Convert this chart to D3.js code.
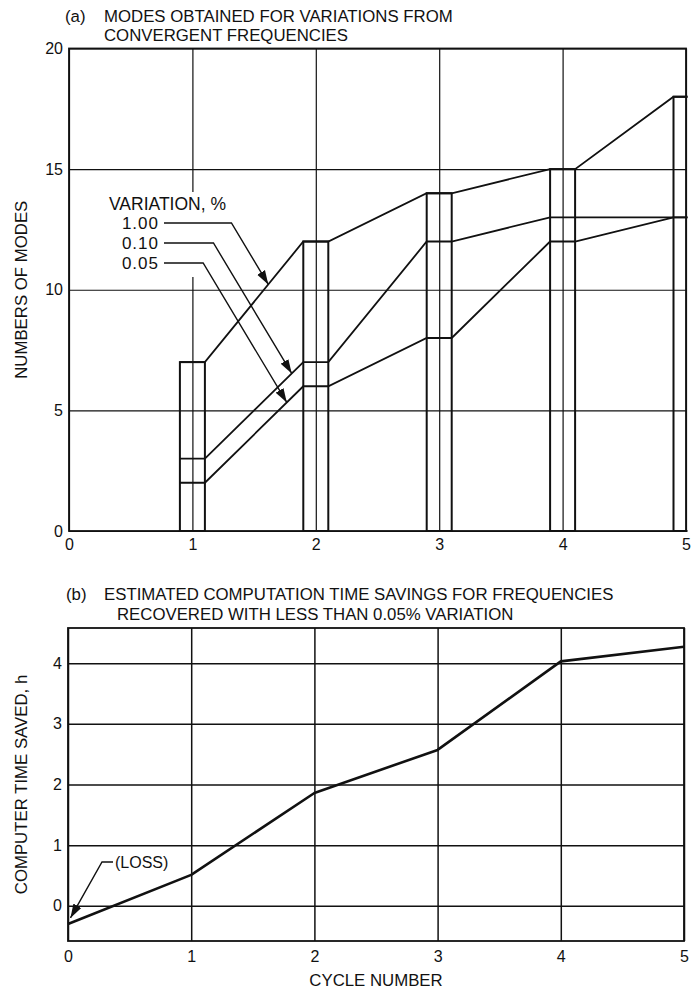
<!DOCTYPE html>
<html>
<head>
<meta charset="utf-8">
<script src="https://cdn.jsdelivr.net/npm/d3@7"></script>
<style>
  body { margin: 0; background: #fff; }
  text { font-family: "Liberation Sans", Arial, sans-serif; fill: #111; }
</style>
</head>
<body>
<div id="figure"></div>
<script>
// Donnees du graphique (a)
const cycles_a = [1, 2, 3, 4, 5];
const variations = ["1.00", "0.10", "0.05"];
const modes_100 = [7, 12, 14, 15, 18];
const modes_010 = [3, 7, 12, 13, 13];
const modes_005 = [2, 6, 8, 12, 13];
const ticks_a_x = [0, 1, 2, 3, 4, 5];
const ticks_a_y = [0, 5, 10, 15, 20];
// position (en cycle) de la pointe de chaque fleche de legende
const fleches_a = [1.615, 1.805, 1.765];

// Donnees du graphique (b)
const cycles_b = [0, 1, 2, 3, 4, 5];
const heures = [-0.3, 0.51, 1.86, 2.57, 4.03, 4.27];
const ticks_b_x = [0, 1, 2, 3, 4, 5];
const ticks_b_y = [0, 1, 2, 3, 4];
const perte_pointe = [0.02, -0.2];

const W = 698, H = 992;
const FT = 16.8;
const svg = d3.select("#figure").append("svg")
    .attr("width", W).attr("height", H);

// fleches
svg.append("defs").append("marker")
    .attr("id", "fleche")
    .attr("markerUnits", "userSpaceOnUse")
    .attr("viewBox", "0 -5 14 10")
    .attr("refX", 14).attr("refY", 0)
    .attr("markerWidth", 14).attr("markerHeight", 10)
    .attr("orient", "auto")
    .append("path").attr("d", "M0,-4.5L14,0L0,4.5Z").attr("fill", "#111");

svg.select("defs").append("clipPath").attr("id", "clip_a")
    .append("rect").attr("x", 68).attr("y", 40).attr("width", 619.5).attr("height", 500);

// ---------- (a) ----------
const xa = d3.scaleLinear().domain([0, 5]).range([69, 686]);
const ya = d3.scaleLinear().domain([0, 20]).range([531, 48.5]);

function titre(x1, x2, y1, y2, lettre, l1, l2) {
    svg.append("text").attr("x", x1).attr("y", y1).attr("font-size", FT).text(lettre);
    svg.append("text").attr("x", x2).attr("y", y1).attr("font-size", FT).text(l1);
    svg.append("text").attr("x", x2 + (l2.x || 0)).attr("y", y2).attr("font-size", FT).text(l2.t);
}
titre(65, 104, 22, 41, "(a)", "MODES OBTAINED FOR VARIATIONS FROM", {t: "CONVERGENT FREQUENCIES"});

function styleAxe(g, ep) {
    g.select(".domain").remove();
    g.selectAll("line").attr("stroke", "#111").attr("stroke-width", ep);
    g.selectAll("text").attr("font-size", 16).attr("fill", "#111")
        .style("font-family", "Liberation Sans, Arial, sans-serif");
}

const ga = svg.append("g");
ga.append("g")
    .attr("transform", `translate(${xa(0)},0)`)
    .call(d3.axisLeft(ya).tickValues(ticks_a_y).tickFormat(d3.format("d"))
        .tickSize(-(xa(5) - xa(0))).tickPadding(6))
    .call(g => styleAxe(g, 1.2));
ga.append("g")
    .attr("transform", `translate(0,${ya(0)})`)
    .call(d3.axisBottom(xa).tickValues(ticks_a_x).tickFormat(d3.format("d"))
        .tickSize(-(ya(0) - ya(20))).tickPadding(8))
    .call(g => styleAxe(g, 1.2));
ga.append("rect")
    .attr("x", xa(0)).attr("y", ya(20))
    .attr("width", xa(5) - xa(0)).attr("height", ya(0) - ya(20))
    .attr("fill", "none").attr("stroke", "#111").attr("stroke-width", 1.8);

// masque blanc derriere la legende
ga.append("rect").attr("x", 100).attr("y", 192).attr("width", 140).attr("height", 85).attr("fill", "#fff");

// barres
const hw = 12.5;
const series = [modes_100, modes_010, modes_005];
const barres = ga.append("g").attr("clip-path", "url(#clip_a)");
barres.selectAll("rect.barre")
    .data(cycles_a)
    .join("rect")
    .attr("class", "barre")
    .attr("x", d => xa(d) - hw)
    .attr("y", (d, i) => ya(d3.max(series, s => s[i])))
    .attr("width", 2 * hw)
    .attr("height", (d, i) => ya(0) - ya(d3.max(series, s => s[i])))
    .attr("fill", "none").attr("stroke", "#111").attr("stroke-width", 2);

// courbes : traversent le haut de chaque barre
const ligne_a = d3.line().x(d => d[0]).y(d => d[1]);
barres.selectAll("path.serie")
    .data(series)
    .join("path")
    .attr("class", "serie")
    .attr("fill", "none").attr("stroke", "#111").attr("stroke-width", 1.8)
    .attr("d", s => ligne_a(cycles_a.flatMap((c, i) => [[xa(c) - hw, ya(s[i])], [xa(c) + hw, ya(s[i])]])));

// legende
svg.append("text").attr("x", 109).attr("y", 210).attr("font-size", 17.5).text("VARIATION, %");
variations.forEach((v, k) => {
    const yb = 229 + k * 20;
    svg.append("text").attr("x", 159).attr("y", yb).attr("text-anchor", "end")
        .attr("font-size", 17).attr("letter-spacing", 1).text(v);
    const s = series[k];
    const x1 = xa(1) + hw, y1 = ya(s[0]), x2 = xa(2) - hw, y2 = ya(s[1]);
    const px = xa(fleches_a[k]);
    const py = y1 + (px - x1) / (x2 - x1) * (y2 - y1);
    const ly = yb - 6;
    const ex = px - (py - ly) * 0.6;
    svg.append("path")
        .attr("d", `M164,${ly}H${ex}L${px},${py}`)
        .attr("fill", "none").attr("stroke", "#111").attr("stroke-width", 1.4)
        .attr("marker-end", "url(#fleche)");
});

svg.append("text")
    .attr("transform", `translate(21,${(ya(0) + ya(20)) / 2}) rotate(-90)`)
    .attr("text-anchor", "middle").attr("dominant-baseline", "central")
    .attr("font-size", FT).text("NUMBERS OF MODES");

// ---------- (b) ----------
const xb = d3.scaleLinear().domain([0, 5]).range([68, 684]);
const yb = d3.scaleLinear().domain([-0.58, 4.58]).range([941, 628]);

titre(66, 104, 600, 620, "(b)", "ESTIMATED COMPUTATION TIME SAVINGS FOR FREQUENCIES",
    {t: "RECOVERED WITH LESS THAN 0.05% VARIATION", x: 13});

const gb = svg.append("g");
gb.append("g")
    .attr("transform", `translate(${xb(0)},0)`)
    .call(d3.axisLeft(yb).tickValues(ticks_b_y).tickFormat(d3.format("d"))
        .tickSize(-(xb(5) - xb(0))).tickPadding(6))
    .call(g => styleAxe(g, 1.5));
gb.append("g")
    .attr("transform", `translate(0,${yb(-0.58)})`)
    .call(d3.axisBottom(xb).tickValues(ticks_b_x).tickFormat(d3.format("d"))
        .tickSize(-(yb(-0.58) - yb(4.58))).tickPadding(10))
    .call(g => styleAxe(g, 1.5));
gb.append("rect")
    .attr("x", xb(0)).attr("y", yb(4.58))
    .attr("width", xb(5) - xb(0)).attr("height", yb(-0.58) - yb(4.58))
    .attr("fill", "none").attr("stroke", "#111").attr("stroke-width", 1.8);

gb.append("path")
    .datum(cycles_b.map((c, i) => [c, heures[i]]))
    .attr("fill", "none").attr("stroke", "#111").attr("stroke-width", 2.6)
    .attr("stroke-linejoin", "round")
    .attr("d", d3.line().x(d => xb(d[0])).y(d => yb(d[1])));

// (LOSS)
const lx = 113, lyy = 862;
svg.append("text").attr("x", lx + 2).attr("y", lyy + 5.5).attr("font-size", 16).text("(LOSS)");
svg.append("path")
    .attr("d", `M${lx},${lyy}H${lx - 11}L${xb(perte_pointe[0])},${yb(perte_pointe[1])}`)
    .attr("fill", "none").attr("stroke", "#111").attr("stroke-width", 1.4)
    .attr("marker-end", "url(#fleche)");

svg.append("text")
    .attr("transform", `translate(21,${(yb(-0.58) + yb(4.58)) / 2}) rotate(-90)`)
    .attr("text-anchor", "middle").attr("dominant-baseline", "central")
    .attr("font-size", FT).text("COMPUTER TIME SAVED, h");
svg.append("text")
    .attr("x", (xb(0) + xb(5)) / 2).attr("y", 986)
    .attr("text-anchor", "middle").attr("font-size", FT).text("CYCLE NUMBER");
</script>
</body>
</html>
